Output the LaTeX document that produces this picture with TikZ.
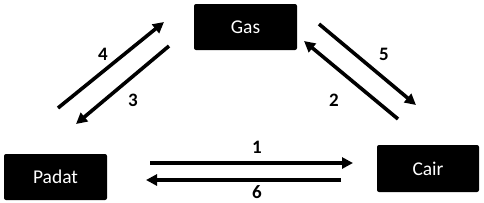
\documentclass[tikz,border=0pt]{standalone}
\usepackage{fontspec}
\setmainfont{Carlito}
\usetikzlibrary{arrows.meta}
\begin{document}
\begin{tikzpicture}[x=1pt,y=-1pt,
  box/.style={fill=black,text=white,rounded corners=2pt,inner sep=0pt,font=\fontsize{19.5}{22}\selectfont},
  arr/.style={line width=3.6pt,-{Triangle[length=11pt,width=11pt]}},
  num/.style={font=\fontsize{19}{22}\selectfont\bfseries}]
\useasboundingbox (0,0) rectangle (484,202);
\node[box,minimum width=103pt,minimum height=46pt] (gas) at (245.5,27) {Gas};
\node[box,minimum width=103pt,minimum height=46pt] (padat) at (55.5,177) {Padat};
\node[box,minimum width=102pt,minimum height=47pt] (cair) at (428,168.5) {Cair};
\coordinate (a4s) at (58,108); \coordinate (a4e) at (164,22);
\coordinate (a3s) at (169,46); \coordinate (a3e) at (76,124);
\coordinate (a5s) at (319,24); \coordinate (a5e) at (416,105);
\coordinate (a2s) at (398,119); \coordinate (a2e) at (304,41);
\coordinate (a1s) at (150,163); \coordinate (a1e) at (353,163);
\coordinate (a6s) at (341,180); \coordinate (a6e) at (146,180);
\draw[arr] (a4s) -- (a4e);
\draw[arr] (a3s) -- (a3e);
\draw[arr] (a5s) -- (a5e);
\draw[arr] (a2s) -- (a2e);
\draw[arr] (a1s) -- (a1e);
\draw[arr] (a6s) -- (a6e);
\node[num] (n4) at (103,54) {4};
\node[num] (n3) at (133,100) {3};
\node[num] (n5) at (384,54) {5};
\node[num] (n2) at (334,100) {2};
\node[num] (n1) at (257,147) {1};
\node[num] (n6) at (257,192) {6};
\end{tikzpicture}
\end{document}
